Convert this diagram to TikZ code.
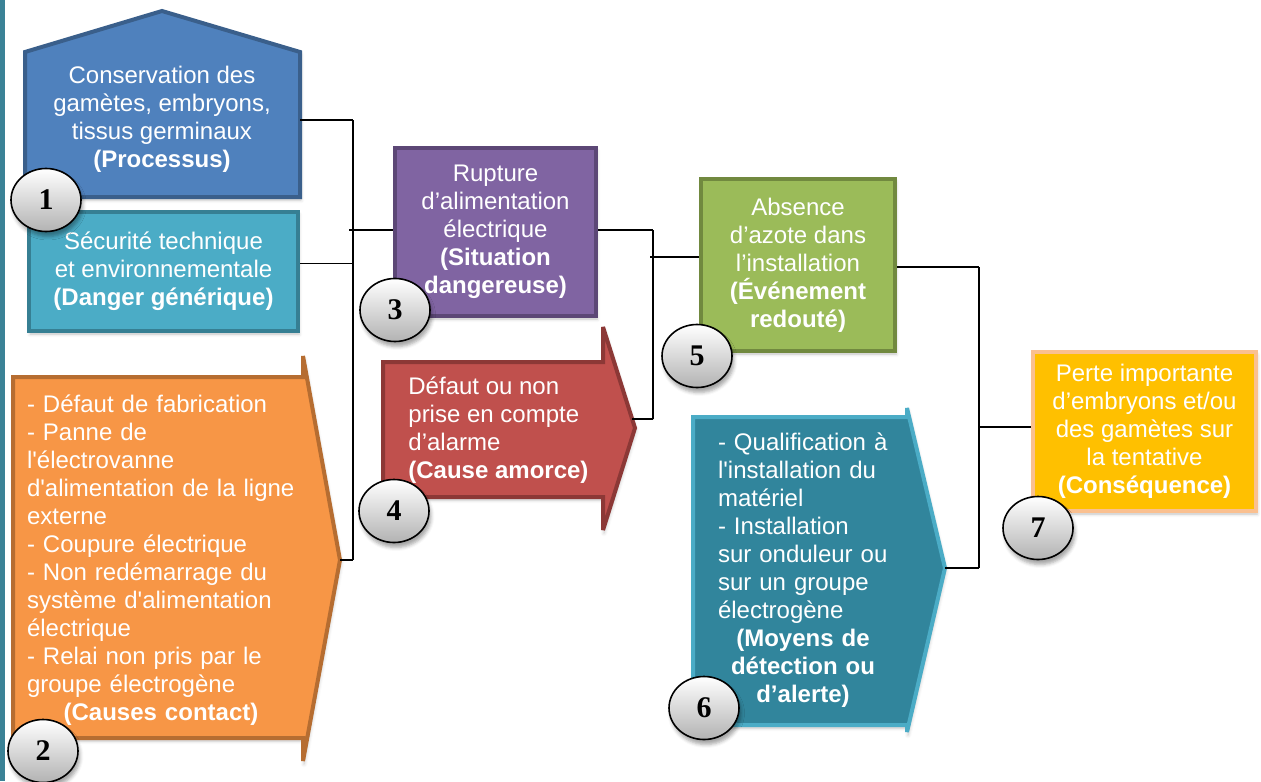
\documentclass[tikz,border=0pt]{standalone}
\usepackage{fontspec}
\newfontfamily\arial{Liberation Sans}
\newfontfamily\timesnum{Liberation Serif}
\usetikzlibrary{shapes.geometric,shadows.blur}

\definecolor{blueFill}{HTML}{4F81BD}
\definecolor{blueLine}{HTML}{3A5F8B}
\definecolor{aquaFill}{HTML}{4BACC6}
\definecolor{aquaLine}{HTML}{367F93}
\definecolor{orangeFill}{HTML}{F79646}
\definecolor{orangeLine}{HTML}{B66D31}
\definecolor{purpleFill}{HTML}{8064A2}
\definecolor{purpleLine}{HTML}{5C4776}
\definecolor{redFill}{HTML}{C0504D}
\definecolor{redLine}{HTML}{8C3836}
\definecolor{greenFill}{HTML}{9BBB59}
\definecolor{greenLine}{HTML}{71893F}
\definecolor{tealFill}{HTML}{31859C}
\definecolor{tealLine}{HTML}{4BACC6}
\definecolor{goldFill}{HTML}{FFC000}
\definecolor{goldLine}{HTML}{FAC090}
\definecolor{sideBar}{HTML}{3B8296}

\newcommand{\midline}[1]{\makebox[\linewidth]{\textbf{#1}}}

\tikzset{
  panel/.style={line width=2pt, line join=miter, miter limit=2.5,
    blur shadow={shadow xshift=0.5pt, shadow yshift=-1.5pt, shadow blur steps=4, shadow opacity=25}},
  txt/.style={text=white, align=center, inner sep=0pt, font=\arial\fontsize{12}{14}\selectfont},
  box/.style={panel, txt, rectangle, draw},
  num/.style={ellipse, draw=black, line width=0.8pt, top color=white, bottom color=black!30,
    minimum width=35pt, minimum height=31.5pt, inner sep=0pt,
    font=\timesnum\bfseries\fontsize{15}{15}\selectfont,
    blur shadow={shadow xshift=1pt, shadow yshift=-2.5pt, shadow opacity=35}},
  link/.style={line width=0.9pt},
}

\begin{document}
\begin{tikzpicture}[x=0.5pt, y=-0.5pt]
  \useasboundingbox (0,0) rectangle (1261,781);

  % side bar
  \fill[sideBar] (0,0) rectangle (5,781);

  % Processus (pentagon)
  \draw[panel, fill=blueFill, draw=blueLine] (25,197) -- (25,52) -- (162,11) -- (300,52) -- (300,197) coordinate (proc-se) -- cycle;
  \node[txt] (processus) at (162,119) {Conservation des\\gamètes, embryons,\\tissus germinaux\\\textbf{(Processus)}};

  % Danger generique
  \node[box, fill=aquaFill, draw=aquaLine, minimum width=134.5pt, minimum height=59.5pt] (danger) at (163.5,271.5) {Sécurité technique\\et environnementale\\\textbf{(Danger générique)}};

  % Causes contact (arrow)
  \draw[panel, fill=orangeFill, draw=orangeLine] (13,377) -- (303,377) -- (303,356) -- (340,560) coordinate (causes-tip) -- (303,761) -- (303,738) -- (13,738) -- cycle;
  \node[txt, text width=134pt, align=left] (causes) at (161,560) {- Défaut de fabrication\\- Panne de\\l'électrovanne\\d'alimentation de la ligne\\externe\\- Coupure électrique\\- Non redémarrage du\\système d'alimentation\\électrique\\- Relai non pris par le\\groupe électrogène\\\midline{(Causes contact)}};

  % Situation dangereuse
  \node[box, fill=purpleFill, draw=purpleLine, minimum width=100.5pt, minimum height=84pt] (situation) at (495.5,232) {Rupture\\d’alimentation\\électrique\\\textbf{(Situation}\\\textbf{dangereuse)}};

  % Cause amorce (arrow)
  \draw[panel, fill=redFill, draw=redLine] (383,362) -- (603,362) -- (603,327) -- node[coordinate, pos=0.91] (amorce-hook) {} (635,428) -- (603,530) -- (603,497) -- (383,497) -- cycle;
  \node[txt, align=left, anchor=west] (amorce) at (408,430) {Défaut ou non\\prise en compte\\d’alarme\\\textbf{(Cause amorce)}};

  % Evenement redoute
  \node[box, fill=greenFill, draw=greenLine, minimum width=97pt, minimum height=86pt] (evenement) at (798,265) {Absence\\d’azote dans\\l’installation\\\textbf{(Événement}\\\textbf{redouté)}};

  % Moyens de detection (arrow)
  \draw[panel, fill=tealFill, draw=tealLine] (693,417) -- (907,417) -- (907,408) -- (945,568) coordinate (moyens-tip) -- (907,732) -- (907,725) -- (693,725) -- cycle;
  \node[txt, text width=85pt, align=left] (moyens) at (803,570) {- Qualification à\\l'installation du\\matériel\\- Installation\\sur onduleur ou\\sur un groupe\\électrogène\\\midline{(Moyens de}\\\midline{détection ou}\\\midline{d’alerte)}};

  % Consequence
  \node[box, fill=goldFill, draw=goldLine, minimum width=111.5pt, minimum height=79.5pt] (consequence) at (1144.5,431.5) {Perte importante\\d’embryons et/ou\\des gamètes sur\\la tentative\\\textbf{(Conséquence)}};

  % First junction
  \coordinate (jA-top) at (353,120);
  \coordinate (jA-bot) at (353,560);
  \coordinate (jA-out) at (349,230);
  \draw[link] (jA-top) -- (jA-bot);
  \draw[link] (proc-se |- jA-top) -- (jA-top);
  \draw[link] ([yshift=4pt]danger.east) -- ([yshift=4pt]danger.east -| jA-top);
  \draw[link] (causes-tip) -- (jA-bot);
  \draw[link] (jA-out) -- (jA-out -| situation.west);

  % Second junction
  \coordinate (jB-top) at (653,230);
  \coordinate (jB-bot) at (653,419);
  \coordinate (jB-out) at (650,257);
  \draw[link] (jB-top) -- (jB-bot);
  \draw[link] (jB-top -| situation.east) -- (jB-top);
  \draw[link] (amorce-hook) -- (jB-bot);
  \draw[link] (jB-out) -- (jB-out -| evenement.west);

  % Third junction
  \coordinate (jC-top) at (979,267);
  \coordinate (jC-bot) at (979,568);
  \coordinate (jC-out) at (979,427);
  \draw[link] (jC-top) -- (jC-bot);
  \draw[link] (jC-top -| evenement.east) -- (jC-top);
  \draw[link] (moyens-tip) -- (jC-bot);
  \draw[link] (jC-out) -- (jC-out -| consequence.west);

  % Step numbers
  \node[num] (n1) at (46,200) {1};
  \node[num] (n2) at (43,751) {2};
  \node[num] (n3) at (395,310) {3};
  \node[num] (n4) at (394,511) {4};
  \node[num] (n5) at (697,356) {5};
  \node[num] (n6) at (704,708) {6};
  \node[num] (n7) at (1038,528) {7};
\end{tikzpicture}
\end{document}
